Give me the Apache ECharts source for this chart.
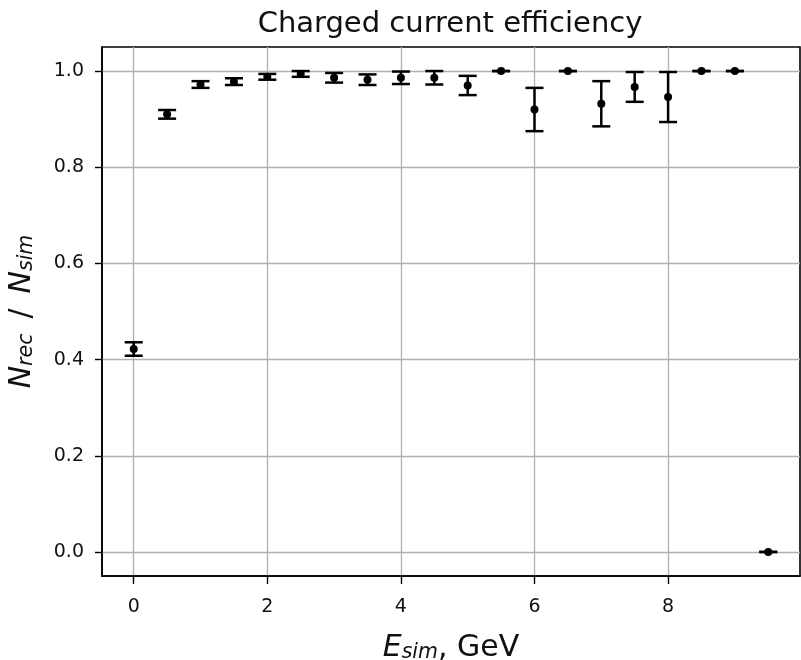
<!DOCTYPE html>
<html>
<head>
<meta charset="utf-8">
<script src="https://cdn.jsdelivr.net/npm/echarts@6/dist/echarts.min.js"></script>
<style>
html,body{margin:0;padding:0;background:#fff;}
#chart{width:801px;height:660px;}
</style>
</head>
<body>
<div id="chart"></div>
<script>
// Simulated energy bins (GeV)
var energies = [0.0, 0.5, 1.0, 1.5, 2.0, 2.5, 3.0, 3.5, 4.0, 4.5, 5.0, 5.5, 6.0, 6.5, 7.0, 7.5, 8.0, 8.5, 9.0, 9.5];
// Efficiency N_rec / N_sim
var efficiency = [0.422, 0.910, 0.972, 0.978, 0.988, 0.994, 0.986, 0.982, 0.986, 0.986, 0.970, 1.000, 0.920, 1.000, 0.932, 0.967, 0.946, 1.000, 1.000, 0.000];
// Symmetric error (half-length of bar)
var errors = [0.014, 0.009, 0.007, 0.007, 0.006, 0.006, 0.010, 0.011, 0.013, 0.014, 0.020, 0.000, 0.045, 0.000, 0.047, 0.031, 0.052, 0.000, 0.000, 0.000];
// Tick values
var xTicks = [0, 2, 4, 6, 8];
var yTicks = [0.0, 0.2, 0.4, 0.6, 0.8, 1.0];

var titleText = 'Charged current efficiency';

var seriesData = energies.map(function (x, i) { return [x, efficiency[i], errors[i]]; });

var FONT = 'DejaVu Sans';
var chart = echarts.init(document.getElementById('chart'), null, {renderer: 'canvas'});

var richLabel = {
  e: {fontFamily: FONT, fontSize: 30, fontStyle: 'italic', color: '#111', lineHeight: 30},
  s: {fontFamily: FONT, fontSize: 20.5, fontStyle: 'italic', color: '#111', lineHeight: 12, verticalAlign: 'bottom'},
  n: {fontFamily: FONT, fontSize: 30, color: '#111', lineHeight: 30}
};

var option = {
  backgroundColor: '#fff',
  animation: false,
  textStyle: {fontFamily: FONT},
  title: {
    text: titleText,
    left: 445,
    textAlign: 'center',
    top: 5,
    textStyle: {fontFamily: FONT, fontSize: 29, fontWeight: 'normal', color: '#111'}
  },
  grid: {
    left: 102, right: 1, top: 47, bottom: 84,
    outerBoundsMode: 'none',
    containLabel: false,
    show: true, borderColor: '#000', borderWidth: 1.6, backgroundColor: 'transparent'
  },
  xAxis: {
    type: 'value',
    min: -0.475, max: 9.975,
    axisLine: {show: true, onZero: false, lineStyle: {color: '#000', width: 1.6}},
    axisTick: {show: true, inside: false, length: 8, lineStyle: {color: '#000', width: 1.4}, customValues: xTicks},
    axisLabel: {show: true, customValues: xTicks, margin: 22, fontSize: 19, color: '#111', fontFamily: FONT,
      formatter: function (v) { return String(v); }},
    splitLine: {show: true, lineStyle: {color: '#b0b0b0', width: 1.3}},
    name: '{e|E}{s|sim}{n|, GeV}',
    nameLocation: 'middle',
    nameGap: 57,
    nameTextStyle: {fontFamily: FONT, fontSize: 30, color: '#111', rich: richLabel}
  },
  yAxis: {
    type: 'value',
    min: -0.05, max: 1.05,
    axisLine: {show: true, onZero: false, lineStyle: {color: '#000', width: 1.6}},
    axisTick: {show: true, inside: false, length: 7, lineStyle: {color: '#000', width: 1.4}, customValues: yTicks},
    axisLabel: {show: true, customValues: yTicks, margin: 18, fontSize: 19, color: '#111', fontFamily: FONT,
      formatter: function (v) { return v.toFixed(1); }},
    splitLine: {show: true, lineStyle: {color: '#b0b0b0', width: 1.3}},
    name: '{e|N}{s|rec}{n|\u2002/\u2002}{e|N}{s|sim}',
    nameLocation: 'middle',
    nameRotate: 90,
    nameGap: 65,
    nameTextStyle: {fontFamily: FONT, fontSize: 30, color: '#111', rich: richLabel}
  },
  series: [{
    type: 'custom',
    data: seriesData,
    encode: {x: 0, y: 1},
    clip: false,
    renderItem: function (params, api) {
      var x = api.value(0), y = api.value(1), e = api.value(2);
      var c = api.coord([x, y]);
      var hi = api.coord([x, y + e]);
      var lo = api.coord([x, y - e]);
      var hw = 9;
      var st = {stroke: '#000', lineWidth: 2.5};
      return {
        type: 'group',
        children: [
          {type: 'line', shape: {x1: c[0], y1: hi[1], x2: c[0], y2: lo[1]}, style: st},
          {type: 'line', shape: {x1: c[0] - hw, y1: hi[1], x2: c[0] + hw, y2: hi[1]}, style: st},
          {type: 'line', shape: {x1: c[0] - hw, y1: lo[1], x2: c[0] + hw, y2: lo[1]}, style: st},
          {type: 'circle', shape: {cx: c[0], cy: c[1], r: 4}, style: {fill: '#000'}}
        ]
      };
    }
  }]
};
chart.setOption(option);
</script>
</body>
</html>
